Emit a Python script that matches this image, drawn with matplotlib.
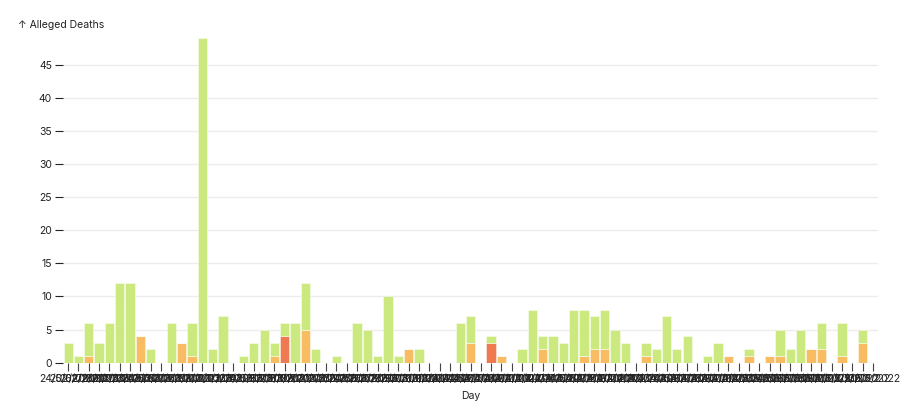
import matplotlib
matplotlib.use('Agg')
import matplotlib.pyplot as plt
import numpy as np
import pandas as pd

plt.rcParams['font.family'] = ['Inter', 'DejaVu Sans']

# one bar per day, 24/02/2022 onwards
days = pd.date_range('2022-02-24', periods=79, freq='D').strftime('%d/%m/%Y').tolist()

# totals per category (green = other, orange, red)
orange = [0, 0, 1, 0, 0, 0, 0, 4, 0, 0,
          0, 3, 1, 0, 0, 0, 0, 0, 0, 0,
          1, 0, 0, 5, 0, 0, 0, 0, 0, 0,
          0, 0, 0, 2, 0, 0, 0, 0, 0, 3,
          0, 0, 1, 0, 0, 0, 2, 0, 0, 0,
          1, 2, 2, 0, 0, 0, 1, 0, 0, 0,
          0, 0, 0, 0, 1, 0, 1, 0, 1, 1,
          0, 0, 2, 2, 0, 1, 0, 3, 0]
red = [0, 0, 0, 0, 0, 0, 0, 0, 0, 0,
       0, 0, 0, 0, 0, 0, 0, 0, 0, 0,
       0, 4, 0, 0, 0, 0, 0, 0, 0, 0,
       0, 0, 0, 0, 0, 0, 0, 0, 0, 0,
       0, 3, 0, 0, 0, 0, 0, 0, 0, 0,
       0, 0, 0, 0, 0, 0, 0, 0, 0, 0,
       0, 0, 0, 0, 0, 0, 0, 0, 0, 0,
       0, 0, 0, 0, 0, 0, 0, 0, 0]
green = [3, 1, 5, 3, 6, 12, 12, 0, 2, 0,
         6, 0, 5, 49, 2, 7, 0, 1, 3, 5,
         2, 2, 6, 7, 2, 0, 1, 0, 6, 5,
         1, 10, 1, 0, 2, 0, 0, 0, 6, 4,
         0, 1, 0, 0, 2, 8, 2, 4, 3, 8,
         7, 5, 6, 5, 3, 0, 2, 2, 7, 2,
         4, 0, 1, 3, 0, 0, 1, 0, 0, 4,
         2, 5, 0, 4, 0, 5, 0, 2, 0]

colors = {'orange': '#f8bd63', 'red': '#ef7a52', 'green': '#cbe97f'}

fig = plt.figure(figsize=(9.1, 4.07), dpi=100)
ax = fig.add_axes([63 / 910, 1 - 362.7 / 407, 815 / 910, (362.7 - 38) / 407])

x = np.arange(len(days))
o = np.array(orange)
r = np.array(red)
g = np.array(green)
kw = dict(width=0.9, linewidth=0.6, edgecolor=(1, 1, 1, 0.5), zorder=2)
ax.bar(x, o, color=colors['orange'], **kw)
ax.bar(x, r, bottom=o, color=colors['red'], **kw)
ax.bar(x, g, bottom=o + r, color=colors['green'], **kw)

ax.set_xlim(-0.5, len(days) - 0.5)
ax.set_ylim(0, 49)
ax.set_yticks(range(0, 50, 5))
ax.grid(axis='y', color='#ececec', linewidth=1, zorder=0)
for s in ax.spines.values():
    s.set_visible(False)

ax.tick_params(axis='y', length=6, width=0.8, color='#222222', labelsize=7.5,
               labelcolor='#222222', pad=2)
ax.set_xticks(x)
ax.set_xticklabels(days, fontsize=7.5, color='#222222')
ax.tick_params(axis='x', length=6, width=0.8, color='#444444', pad=2)

fig.text(18 / 910, 1 - 25 / 407, '\u2191 Alleged Deaths', fontsize=7.5, color='#222222',
         va='center', ha='left')
fig.text(470.5 / 910, 1 - 396 / 407, 'Day', fontsize=7.5, color='#222222',
         va='center', ha='center')

fig.savefig('out.png', dpi=100)
